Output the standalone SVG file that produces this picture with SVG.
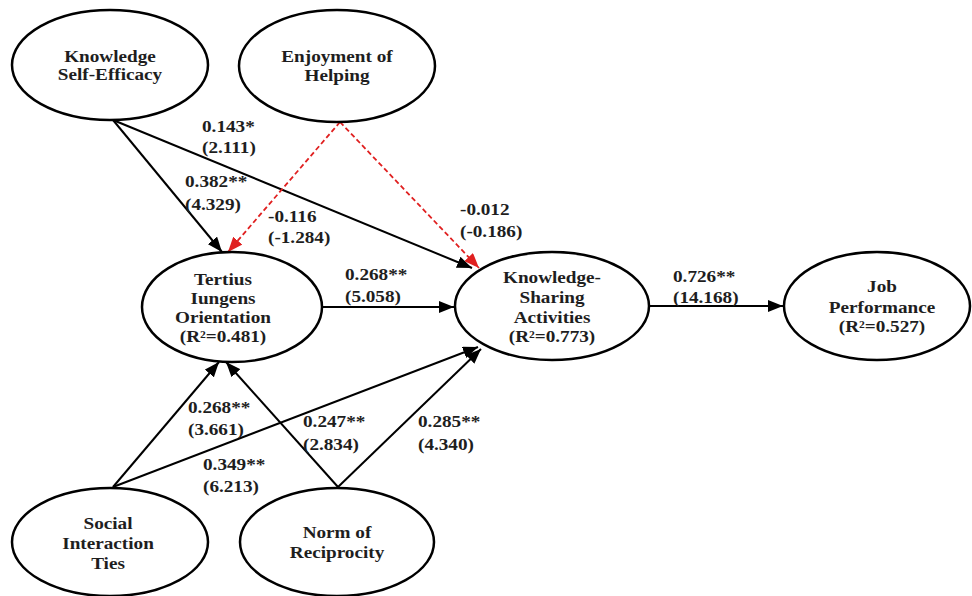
<svg xmlns="http://www.w3.org/2000/svg" width="972" height="596" viewBox="0 0 972 596">
<defs>
<style>
.node{fill:#fff;stroke:#000;stroke-width:2.5}
.t{font-family:"Liberation Serif","Times New Roman",serif;font-weight:bold;font-size:16px;fill:#1e1e1e}
.c{text-anchor:middle}
.e{fill:none;stroke:#000;stroke-width:2}
.r{fill:none;stroke:#e02020;stroke-width:1.8;stroke-dasharray:5 3}
</style>
<marker id="ab" markerUnits="userSpaceOnUse" markerWidth="16" markerHeight="12" refX="15" refY="6" orient="auto"><path d="M0,0 L15,6 L0,12 Z" fill="#000"/></marker>
<marker id="ar" markerUnits="userSpaceOnUse" markerWidth="16" markerHeight="12" refX="15" refY="6" orient="auto"><path d="M0,0 L15,6 L0,12 Z" fill="#e02020"/></marker>
</defs>
<rect width="972" height="596" fill="#fff"/>
<g id="connectors">
<path class="e" d="M113,120 L222,252" marker-end="url(#ab)"/>
<path class="e" d="M113,120 L472,268" marker-end="url(#ab)"/>
<path class="r" d="M340,122 L228,252" marker-end="url(#ar)"/>
<path class="r" d="M340,122 L479,268" marker-end="url(#ar)"/>
<path class="e" d="M322,307 L454,307" marker-end="url(#ab)"/>
<path class="e" d="M649,306 L783,306" marker-end="url(#ab)"/>
<path class="e" d="M113,487 L219,362" marker-end="url(#ab)"/>
<path class="e" d="M113,487 L478,347" marker-end="url(#ab)"/>
<path class="e" d="M338,487 L226,362" marker-end="url(#ab)"/>
<path class="e" d="M338,487 L481,349" marker-end="url(#ab)"/>
</g>
<g id="labels">
<text class="t" transform="translate(202,132) scale(1.2,1)">0.143*</text>
<text class="t" transform="translate(202,153) scale(1.2,1)">(2.111)</text>
<text class="t" transform="translate(185,187) scale(1.2,1)">0.382**</text>
<text class="t" transform="translate(185,210) scale(1.2,1)">(4.329)</text>
<text class="t" transform="translate(268,222) scale(1.2,1)">-0.116</text>
<text class="t" transform="translate(268,243) scale(1.2,1)">(-1.284)</text>
<text class="t" transform="translate(460,215) scale(1.2,1)">-0.012</text>
<text class="t" transform="translate(460,237) scale(1.2,1)">(-0.186)</text>
<text class="t" transform="translate(345,280) scale(1.2,1)">0.268**</text>
<text class="t" transform="translate(345,302) scale(1.2,1)">(5.058)</text>
<text class="t" transform="translate(673,282) scale(1.2,1)">0.726**</text>
<text class="t" transform="translate(673,303) scale(1.2,1)">(14.168)</text>
<text class="t" transform="translate(188,413) scale(1.2,1)">0.268**</text>
<text class="t" transform="translate(188,435) scale(1.2,1)">(3.661)</text>
<text class="t" transform="translate(303,427) scale(1.2,1)">0.247**</text>
<text class="t" transform="translate(303,450) scale(1.2,1)">(2.834)</text>
<text class="t" transform="translate(418,427) scale(1.2,1)">0.285**</text>
<text class="t" transform="translate(418,450) scale(1.2,1)">(4.340)</text>
<text class="t" transform="translate(203,470) scale(1.2,1)">0.349**</text>
<text class="t" transform="translate(203,492) scale(1.2,1)">(6.213)</text>
</g>
<g id="kse">
<ellipse class="node" cx="110" cy="65" rx="98" ry="55"/>
<text class="t c" transform="translate(110,62) scale(1.2,1)">Knowledge</text>
<text class="t c" transform="translate(110,80) scale(1.2,1)">Self-Efficacy</text>
</g>
<g id="eoh">
<ellipse class="node" cx="337" cy="66" rx="98" ry="56"/>
<text class="t c" transform="translate(337,62) scale(1.2,1)">Enjoyment of</text>
<text class="t c" transform="translate(337,81) scale(1.2,1)">Helping</text>
</g>
<g id="tio">
<ellipse class="node" cx="232" cy="307" rx="90" ry="55"/>
<text class="t c" transform="translate(223,285) scale(1.2,1)">Tertius</text>
<text class="t c" transform="translate(223,304) scale(1.2,1)">Iungens</text>
<text class="t c" transform="translate(223,323) scale(1.2,1)">Orientation</text>
<text class="t c" transform="translate(223,342) scale(1.2,1)">(R²=0.481)</text>
</g>
<g id="ksa">
<ellipse class="node" cx="552" cy="306" rx="97" ry="54"/>
<text class="t c" transform="translate(552,283) scale(1.2,1)">Knowledge-</text>
<text class="t c" transform="translate(552,303) scale(1.2,1)">Sharing</text>
<text class="t c" transform="translate(552,323) scale(1.2,1)">Activities</text>
<text class="t c" transform="translate(552,342) scale(1.2,1)">(R²=0.773)</text>
</g>
<g id="jp">
<ellipse class="node" cx="877" cy="306" rx="93" ry="54"/>
<text class="t c" transform="translate(882,292) scale(1.2,1)">Job</text>
<text class="t c" transform="translate(882,313) scale(1.2,1)">Performance</text>
<text class="t c" transform="translate(882,332) scale(1.2,1)">(R²=0.527)</text>
</g>
<g id="sit">
<ellipse class="node" cx="110" cy="542" rx="98" ry="54"/>
<text class="t c" transform="translate(108,529) scale(1.2,1)">Social</text>
<text class="t c" transform="translate(108,549) scale(1.2,1)">Interaction</text>
<text class="t c" transform="translate(108,569) scale(1.2,1)">Ties</text>
</g>
<g id="nor">
<ellipse class="node" cx="337" cy="542" rx="97" ry="54"/>
<text class="t c" transform="translate(337,538) scale(1.2,1)">Norm of</text>
<text class="t c" transform="translate(337,558) scale(1.2,1)">Reciprocity</text>
</g>
</svg>
